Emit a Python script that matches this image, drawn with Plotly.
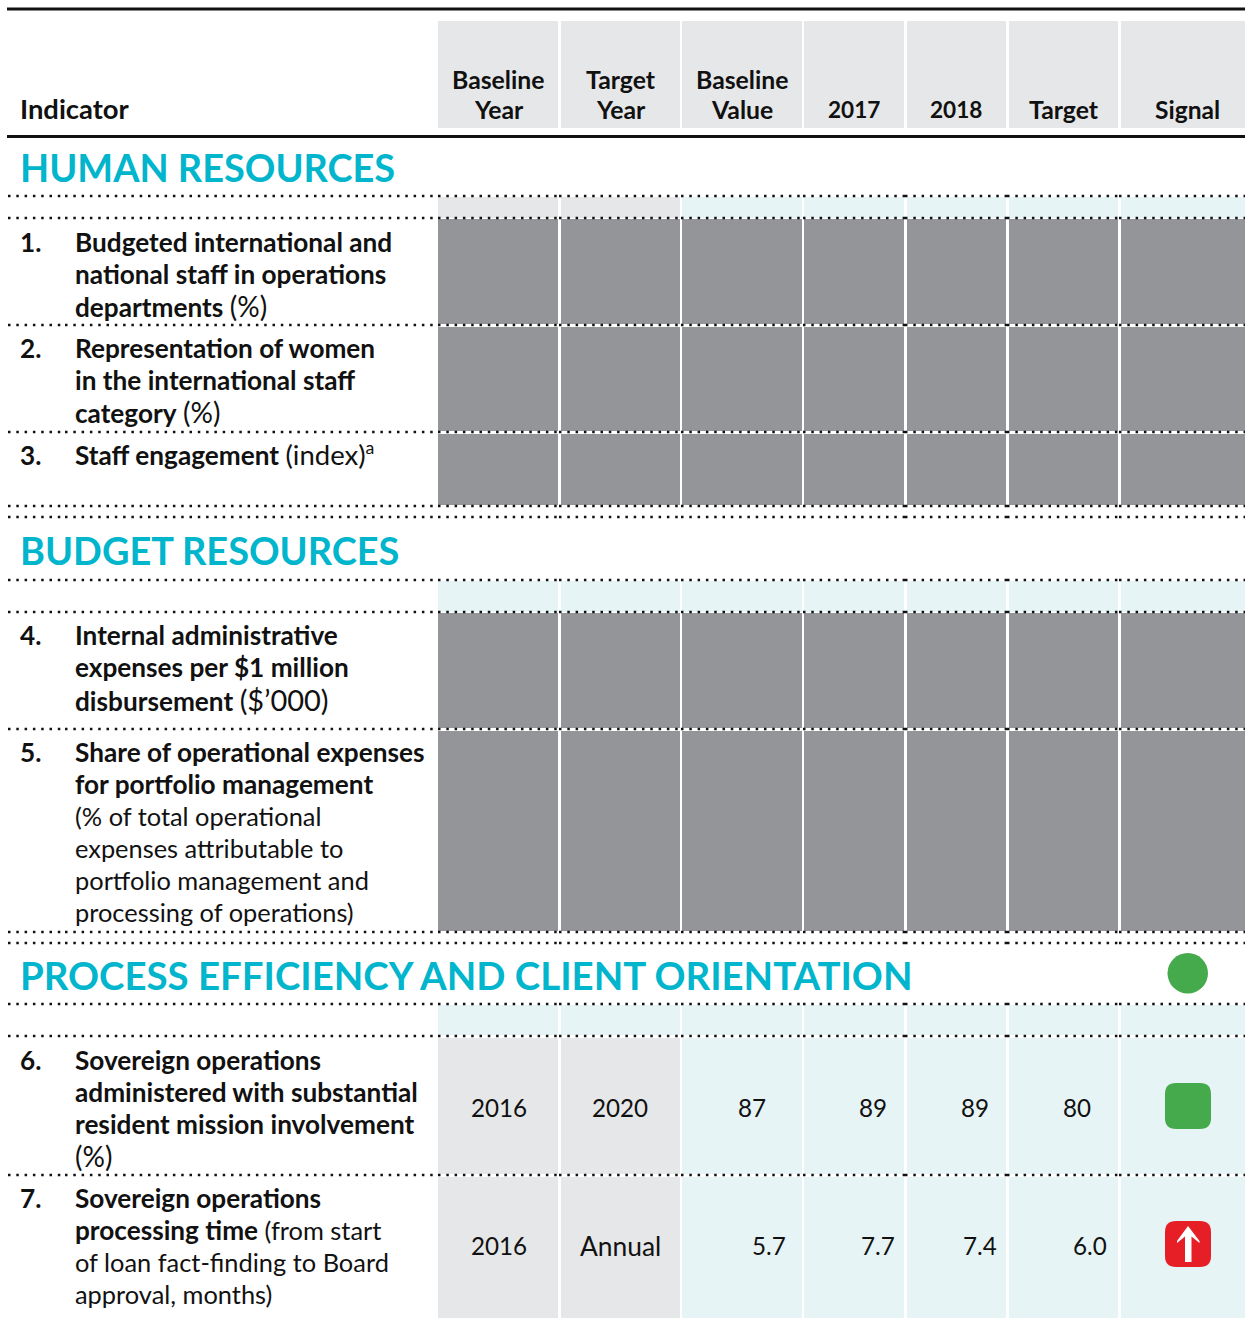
import plotly.graph_objects as go

# ---------- data ----------
columns_header = [["Baseline", "Year"], ["Target", "Year"], ["Baseline", "Value"], ["2017"], ["2018"], ["Target"], ["Signal"]]
section_titles = ["HUMAN RESOURCES", "BUDGET RESOURCES", "PROCESS EFFICIENCY AND CLIENT ORIENTATION"]
indicator_numbers = ["1.", "2.", "3.", "4.", "5.", "6.", "7."]
indicator_lines = [
    ["<b>Budgeted international and</b>", "<b>national staff in operations</b>", "<b>departments</b> (%)"],
    ["<b>Representation of women</b>", "<b>in the international staff</b>", "<b>category</b> (%)"],
    ["<b>Staff engagement</b> (index)<sup>a</sup>"],
    ["<b>Internal administrative</b>", "<b>expenses per $1 million</b>", "<b>disbursement</b> ($’000)"],
    ["<b>Share of operational expenses</b>", "<b>for portfolio management</b>", "(% of total operational",
     "expenses attributable to", "portfolio management and", "processing of operations)"],
    ["<b>Sovereign operations</b>", "<b>administered with substantial</b>", "<b>resident mission involvement</b>", "(%)"],
    ["<b>Sovereign operations</b>", "<b>processing time</b> (from start", "of loan fact-finding to Board", "approval, months)"],
]
row6_values = ["2016", "2020", "87", "89", "89", "80"]
row7_values = ["2016", "Annual", "5.7", "7.7", "7.4", "6.0"]

# ---------- layout ----------
W, H = 1245, 1318
col_left = [438, 561, 682, 804, 907, 1009, 1121]
col_right = [558, 680, 802, 904, 1006, 1118, 1245]
header_x = [498.5, 620.5, 742, 853.5, 955.5, 1063.5, 1187.5]
header_size = [24.8, 24.8, 24.8, 22.6, 22.6, 24.8, 24.6]
seg_edges = [8, 65, 438, 559, 681, 803, 905, 1007, 1119, 1245]
dotted_y = [196, 218, 325, 432, 506, 517, 580, 612, 729, 932, 943, 1004, 1036, 1175]
section_y = [167, 550, 975]
section_size = [37.9, 37.9, 38.4]
row_first_line_y = [242, 348, 453, 635, 752, 1060, 1198]
row6_x = [498.5, 620, 752, 873, 975, 1077]
row7_x = [498.5, 620, 769, 878, 980, 1090]
GRAY_BAND, TEAL_BAND, DARK = "#e6e7e8", "#e6f4f5", "#939598"
TEXT, CYAN = "#111111", "#00b5cc"
FONT = "Lato"
REG, BOLD = 25.4, 26.2
PAREN_SIZE = {"(%)": 28, "(index)": 27.5, "($’000)": 29}

shapes, ann = [], []

def rect(x0, y0, x1, y1, c):
    shapes.append(dict(type="rect", xref="x", yref="y", x0=x0, x1=x1, y0=y0, y1=y1,
                       fillcolor=c, line_width=0, layer="below"))

def text(x, y, s, size=REG, color=TEXT, anchor="left"):
    ann.append(dict(x=x, y=y, xref="x", yref="y", text=s, showarrow=False, xanchor=anchor, yanchor="middle",
                    align=anchor, font=dict(family=FONT, size=size, color=color)))

def mixed(s):
    for p, z in PAREN_SIZE.items():
        s = s.replace(p, f"<span style='font-size:{z}px'>{p}</span>")
    return s.replace("<b>", f"<b style='font-size:{BOLD}px'>")

for i in range(7):
    l, r = col_left[i], col_right[i]
    rect(l, 21, r, 128, GRAY_BAND)
    rect(l, 197, r, 218, GRAY_BAND if i < 2 else TEAL_BAND)
    rect(l, 219, r, 505, DARK)
    rect(l, 581, r, 612, TEAL_BAND)
    rect(l, 613, r, 931, DARK)
    rect(l, 1005, r, 1036, TEAL_BAND)
    rect(l, 1037, r, 1318, GRAY_BAND if i < 2 else TEAL_BAND)

# white breaks under the dotted rules
for y in (325.5, 432.5, 729.5, 1036.5, 1175.5):
    shapes.append(dict(type="line", xref="x", yref="y", x0=438, x1=1245, y0=y, y1=y,
                       line=dict(color="white", width=3), layer="below"))

# solid rules
for y, w in ((9, 3), (136.5, 3)):
    shapes.append(dict(type="line", xref="x", yref="y", x0=7, x1=1245, y0=y, y1=y,
                       line=dict(color="#111111", width=w)))

# dotted rules
for y in dotted_y:
    for a, b in zip(seg_edges[:-1], seg_edges[1:]):
        shapes.append(dict(type="line", xref="x", yref="y", x0=a, x1=b, y0=y, y1=y,
                           line=dict(color="#111111", width=2.5, dash="2.5px,5.8px")))

# header
text(18, 108.5, "<b>Indicator</b>", 27.4)
for i, lines in enumerate(columns_header):
    n = len(lines)
    for j, s in enumerate(lines):
        text(header_x[i], 109.5 - 30 * (n - 1 - j), f"<b>{s}</b>", header_size[i], anchor="center")

# sections
for y, s, z in zip(section_y, section_titles, section_size):
    text(17.5, y, f"<b>{s}</b>", z, CYAN)

# indicators
for num, lines, y0 in zip(indicator_numbers, indicator_lines, row_first_line_y):
    text(18, y0 if num != "3." else y0 + 2, f"<b>{num}</b>", BOLD)
    for k, s in enumerate(lines):
        text(73, y0 + 32 * k, mixed(s))

# values
for x, s in zip(row6_x, row6_values):
    text(x, 1107.5, s, 24.2, anchor="center")
for x, s in zip(row7_x, row7_values):
    text(x, 1245.5, s, 26.4 if s.isalpha() else 24.2, anchor="center")

# signals
def rounded(x0, y0, x1, y1, r, c):
    p = (f"M{x0+r},{y0} L{x1-r},{y0} Q{x1},{y0} {x1},{y0+r} L{x1},{y1-r} Q{x1},{y1} {x1-r},{y1} "
         f"L{x0+r},{y1} Q{x0},{y1} {x0},{y1-r} L{x0},{y0+r} Q{x0},{y0} {x0+r},{y0} Z")
    shapes.append(dict(type="path", xref="x", yref="y", path=p, fillcolor=c, line_width=0))

shapes.append(dict(type="circle", xref="x", yref="y", x0=1167.5, x1=1208, y0=953, y1=993.5,
                   fillcolor="#45aa4b", line_width=0))
rounded(1165, 1083, 1211, 1129, 11, "#45aa4b")
rounded(1165, 1221, 1211, 1267, 11, "#e61f27")
arrow = "M1188,1226 L1199.5,1241 L1199.5,1243 L1191.5,1236.5 L1191.5,1262 L1185,1262 L1185,1236.5 L1177,1243 L1177,1241 Z"
shapes.append(dict(type="path", xref="x", yref="y", path=arrow, fillcolor="white", line_width=0))

fig = go.Figure()
fig.update_layout(
    width=W, height=H, margin=dict(l=0, r=0, t=0, b=0), paper_bgcolor="white", plot_bgcolor="white",
    showlegend=False, shapes=shapes, annotations=ann,
    xaxis=dict(range=[0, W], visible=False, fixedrange=True),
    yaxis=dict(range=[H, 0], visible=False, fixedrange=True),
)
fig.write_html("out.html", post_script="document.body.style.margin='0';", config={"displayModeBar": False})
